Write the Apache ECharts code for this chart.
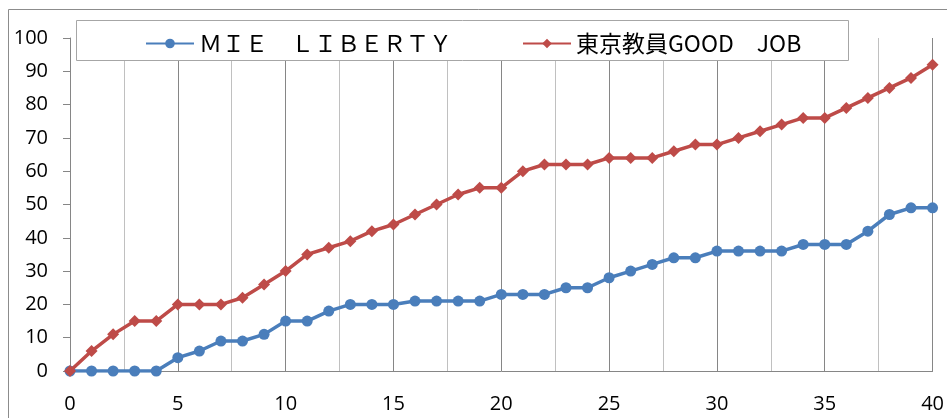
<!DOCTYPE html>
<html>
<head>
<meta charset="utf-8">
<script src="https://cdn.jsdelivr.net/npm/echarts@6/dist/echarts.min.js"></script>
<style>
  html, body { margin: 0; padding: 0; background: #fff; }
  #box { width: 947px; height: 418px; }
</style>
</head>
<body>
<div id="box"></div>
<script>
const xValues = [0,1,2,3,4,5,6,7,8,9,10,11,12,13,14,15,16,17,18,19,20,21,22,23,24,25,26,27,28,29,30,31,32,33,34,35,36,37,38,39,40];
const mieLiberty = [0,0,0,0,0,4,6,9,9,11,15,15,18,20,20,20,21,21,21,21,23,23,23,25,25,28,30,32,34,34,36,36,36,36,38,38,38,42,47,49,49];
const tokyoGoodJob = [0,6,11,15,15,20,20,20,22,26,30,35,37,39,42,44,47,50,53,55,55,60,62,62,62,64,64,64,66,68,68,70,72,74,76,76,79,82,85,88,92];
const seriesNames = ['ＭＩＥ　ＬＩＢＥＲＴＹ', '東京教員GOOD　JOB'];

const toPairs = (vals) => vals.map((v, i) => [xValues[i], v]);

let myecharts = echarts.init(document.getElementById('box'));
let options = {
  animation: false,
  grid: { left: 70, right: 14, top: 38, bottom: 47 },
  graphic: [
    {
      type: 'rect', z: 0, silent: true,
      shape: { x: 8.5, y: 9.5, width: 960, height: 440 },
      style: { fill: 'none', stroke: '#8c8c8c', lineWidth: 1 }
    },
    {
      type: 'rect', z: 3, silent: true,
      shape: { x: 76.5, y: 20.5, width: 772, height: 40 },
      style: { fill: '#fff', stroke: '#a6a6a6', lineWidth: 1 }
    }
  ],
  legend: {
    z: 5,
    left: 140,
    top: 27,
    itemWidth: 48,
    itemHeight: 12,
    itemGap: 70,
    textStyle: { fontSize: 23, color: '#000', fontFamily: 'Noto Sans CJK JP' },
    data: seriesNames
  },
  xAxis: {
    type: 'value',
    min: 0, max: 40, interval: 5,
    axisLine: { show: true, lineStyle: { color: '#868686', width: 1 } },
    axisTick: { show: false },
    axisLabel: { fontSize: 20, color: '#000', margin: 23, fontFamily: 'Open Sans' },
    splitLine: { show: true, lineStyle: { color: '#868686', width: 1 } },
    minorTick: { show: false, splitNumber: 2 },
    minorSplitLine: { show: true, lineStyle: { color: '#c0c0c0', width: 1 } }
  },
  yAxis: {
    type: 'value',
    min: 0, max: 100, interval: 10,
    axisLine: { show: true, lineStyle: { color: '#868686', width: 1 } },
    axisTick: { show: true, length: 7, lineStyle: { color: '#868686' } },
    axisLabel: { fontSize: 20, color: '#000', margin: 22, fontFamily: 'Open Sans' },
    splitLine: { show: false }
  },
  series: [
    {
      name: seriesNames[0],
      type: 'line',
      data: toPairs(mieLiberty),
      symbol: 'circle',
      symbolSize: 11,
      itemStyle: { color: '#4a7ebb' },
      lineStyle: { color: '#4a7ebb', width: 3.5 },
      z: 3
    },
    {
      name: seriesNames[1],
      type: 'line',
      data: toPairs(tokyoGoodJob),
      symbol: 'diamond',
      symbolSize: 12,
      itemStyle: { color: '#be4b48' },
      lineStyle: { color: '#be4b48', width: 3.5 },
      z: 4
    }
  ]
};
myecharts.setOption(options);
</script>
</body>
</html>
